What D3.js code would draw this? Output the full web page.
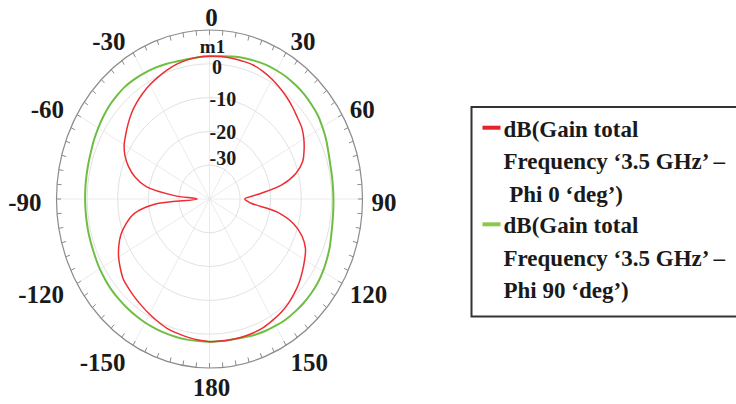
<!DOCTYPE html>
<html>
<head>
<meta charset="utf-8">
<script src="https://cdn.jsdelivr.net/npm/d3@7"></script>
<style>
  body { margin: 0; background: #fff; }
  text { font-family: "Liberation Serif", "Times New Roman", serif; font-weight: bold; fill: #1a1a1a; }
</style>
</head>
<body>
<svg id="chart"></svg>
<script>
// angle (deg) of each sample
var angles = [-180,-175,-170,-165,-160,-155,-150,-145,-140,-135,-130,-125,-120,-115,-110,-105,-100,-95,
              -90,-85,-80,-75,-70,-65,-60,-55,-50,-45,-40,-35,-30,-25,-20,-15,-10,-5,
              0,5,10,15,20,25,30,35,40,45,50,55,60,65,70,75,80,85,
              90,95,100,105,110,115,120,125,130,135,140,145,150,155,160,165,170,175];

// dB(Gain total) Phi 0 deg
var phi0 = [2.2,1.9,1.5,1.1,0.7,0.0,-0.7,-1.4,-2.0,-2.6,-3.2,-4.4,-5.7,-7.3,-9.2,-11.8,-15,-22,
            -36,-28.5,-19,-14.8,-11.8,-9.5,-7.8,-6.6,-5.3,-4.0,-2.9,-1.9,-1.0,-0.2,0.6,1.3,1.8,2.1,
            2.2,2.3,2.3,2.2,2.1,1.6,0.9,0.1,-0.7,-1.6,-2.5,-3.2,-4.4,-5.9,-7.6,-10.8,-16,-24,
            -28.5,-26.5,-17.5,-11.5,-7.8,-5.4,-4.1,-2.9,-1.7,-0.7,0.2,0.9,1.4,1.9,2.1,2.2,2.2,2.2];

// dB(Gain total) Phi 90 deg
var phi90 = [2.2,2.2,2.25,2.27,2.25,2.2,2.2,2.1,2.0,1.9,1.8,1.6,1.4,1.1,0.9,0.8,0.7,0.65,
             0.65,0.7,0.8,0.95,1.2,1.6,2.0,2.4,2.8,3.0,3.2,3.1,2.9,2.7,2.4,2.1,2.0,2.1,
             2.2,2.4,2.8,3.2,3.5,3.8,3.9,4.0,3.9,3.8,3.5,3.2,2.6,2.0,1.3,0.8,0.6,0.5,
             0.5,0.6,0.8,1.2,1.8,2.3,2.8,3.2,3.4,3.5,3.5,3.5,3.3,3.1,2.8,2.4,2.2,2.2];

var ringTicks = [-30,-20,-10,0];
var angleLabels = [0,30,60,90,120,150,180,-150,-120,-90,-60,-30];
var legendLines = [
  ["dB(Gain total", "Frequency \u20183.5 GHz\u2019 \u2013", " Phi 0 \u2018deg\u2019)"],
  ["dB(Gain total", "Frequency \u20183.5 GHz\u2019 \u2013", "Phi 90 \u2018deg\u2019)"]
];
var seriesColors = ["#ee2d33", "#6fbe43"];
var swatchColors = ["#e8232a", "#8cc84e"];

var screen = {width:736, height:404};
var cx = 209.5, cy = 199, R = 169, sx = 153/169;

var svg = d3.select("#chart")
  .attr("width", screen.width)
  .attr("height", screen.height);

var rScale = d3.scaleLinear().domain([-40,10]).range([0,R]);

// polar -> pixel, x is squeezed like the original
var px = function(a, r) { return cx + sx * r * Math.sin(a * Math.PI / 180); };
var py = function(a, r) { return cy - r * Math.cos(a * Math.PI / 180); };

var grid = svg.append("g");

// spokes every 30 deg
grid.selectAll("line.spoke")
  .data(d3.range(0, 360, 30))
  .enter().append("line")
  .attr("x1", cx).attr("y1", cy)
  .attr("x2", function(a){ return px(a, R); })
  .attr("y2", function(a){ return py(a, R); })
  .attr("stroke", "#e6e6e6").attr("stroke-width", 0.8);

// dB rings
grid.selectAll("ellipse.ring")
  .data(ringTicks)
  .enter().append("ellipse")
  .attr("cx", cx).attr("cy", cy)
  .attr("rx", function(v){ return sx * rScale(v); })
  .attr("ry", function(v){ return rScale(v); })
  .attr("fill", "none").attr("stroke", "#e2e2e2").attr("stroke-width", 1);

// outer ring + ticks every 5 deg
grid.append("ellipse")
  .attr("cx", cx).attr("cy", cy)
  .attr("rx", sx * R).attr("ry", R)
  .attr("fill", "none").attr("stroke", "#8c8c8c").attr("stroke-width", 1.2);

grid.selectAll("line.tick")
  .data(d3.range(0, 360, 5))
  .enter().append("line")
  .attr("x1", function(a){ return px(a, R); })
  .attr("y1", function(a){ return py(a, R); })
  .attr("x2", function(a){ return px(a, R - 5); })
  .attr("y2", function(a){ return py(a, R - 5); })
  .attr("stroke", "#8c8c8c").attr("stroke-width", 1);

// curves
var line = d3.line()
  .x(function(d){ return px(d.a, rScale(d.v)); })
  .y(function(d){ return py(d.a, rScale(d.v)); })
  .curve(d3.curveCatmullRomClosed.alpha(0.5));

var series = [phi90, phi0].map(function(vals){
  return angles.map(function(a, i){ return {a:a, v:vals[i]}; });
});

svg.append("path")
  .datum(series[0])
  .attr("d", line)
  .attr("fill", "none").attr("stroke", seriesColors[1]).attr("stroke-width", 2);

svg.append("path")
  .datum(series[1])
  .attr("d", line)
  .attr("fill", "none").attr("stroke", seriesColors[0]).attr("stroke-width", 1.5);

// ring labels
svg.selectAll("text.ringlab")
  .data(ringTicks)
  .enter().append("text")
  .text(function(v){ return v; })
  .attr("x", function(v){ return v === 0 ? cx + 2.5 : cx; })
  .attr("y", function(v){ return py(0, rScale(v)) + (v === -30 ? -7 : v === 0 ? 3 : 1); })
  .attr("dominant-baseline", "central")
  .style("font-size", "20px");

// marker label
svg.append("text")
  .text("m1")
  .attr("x", cx + 3)
  .attr("y", py(0, rScale(phi0[36])) - 3)
  .attr("text-anchor", "middle")
  .style("font-size", "19px");

// angle labels
svg.selectAll("text.anglab")
  .data(angleLabels)
  .enter().append("text")
  .text(function(a){ return a; })
  .attr("x", function(a){
    var s = Math.sin(a * Math.PI / 180);
    if (Math.abs(s) < 0.01) return cx + 2;
    return s > 0 ? cx + 162 * s : cx - 168 * Math.abs(s);
  })
  .attr("y", function(a){ return cy + 3 - 185 * Math.cos(a * Math.PI / 180); })
  .attr("text-anchor", function(a){
    var s = Math.sin(a * Math.PI / 180);
    if (Math.abs(s) < 0.01) return "middle";
    return s > 0 ? "start" : "end";
  })
  .attr("dominant-baseline", "central")
  .style("font-size", "25px");

// legend
var legend = svg.append("g");
legend.append("rect")
  .attr("x", 471.5).attr("y", 107)
  .attr("width", 290).attr("height", 209.5)
  .attr("fill", "#fff").attr("stroke", "#333").attr("stroke-width", 2);

legendLines.forEach(function(lines, i){
  var top = 136.7 + i * 96.6;
  legend.append("rect")
    .attr("x", 482.5).attr("y", top - 11)
    .attr("width", 18).attr("height", 4)
    .attr("fill", swatchColors[i]);
  lines.forEach(function(t, j){
    legend.append("text")
      .text(t)
      .attr("x", 503.5)
      .attr("y", top + j * 32.5)
      .style("white-space", "pre")
      .style("font-size", "23px");
  });
});
</script>
</body>
</html>
